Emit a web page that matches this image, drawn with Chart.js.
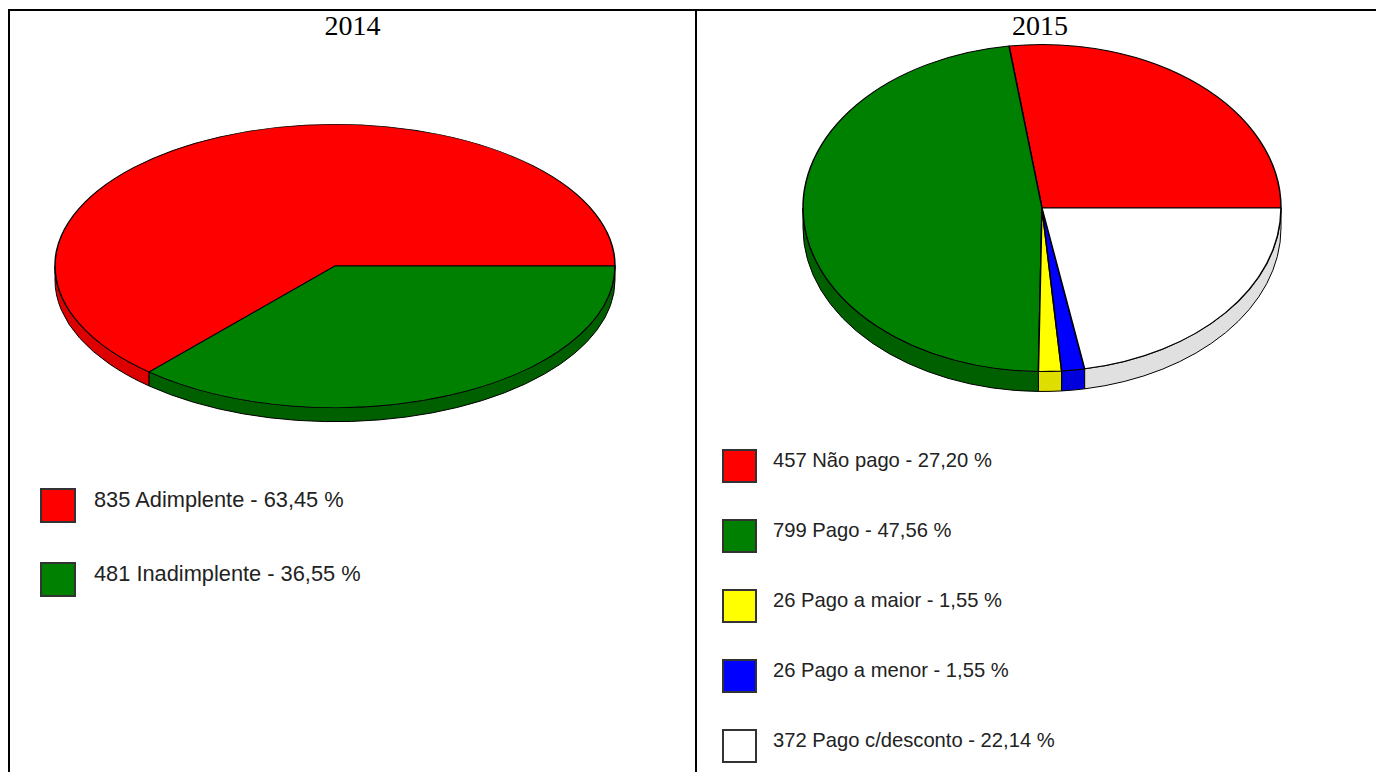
<!DOCTYPE html>
<html>
<head>
<meta charset="utf-8">
<script src="https://cdn.jsdelivr.net/npm/chart.js@4.4.1/dist/chart.umd.min.js"></script>
<style>
body{margin:0;background:#fff;width:1376px;height:772px;overflow:hidden;position:relative;font-family:"Liberation Sans",Arial,sans-serif;}
.line{position:absolute;background:#000;}
.title{position:absolute;font-family:"Liberation Serif","Times New Roman",serif;font-size:28px;line-height:28px;text-align:center;color:#000;}
.pie{position:absolute;}
.legend{position:absolute;}
.item{position:absolute;left:0;white-space:nowrap;color:#222;}
.box{position:absolute;left:0;box-sizing:border-box;border:2px solid #333;}
</style>
</head>
<body>
<div class="line" style="left:8px;top:9px;width:1368px;height:2px"></div>
<div class="line" style="left:8px;top:9px;width:2px;height:763px"></div>
<div class="line" style="left:695px;top:9px;width:2px;height:763px"></div>
<div class="title" style="left:10px;width:685px;top:12px">2014</div>
<div class="title" style="left:697px;width:686px;top:12px">2015</div>
<div class="pie" style="left:35px;top:96px;width:600px;height:340px"><canvas id="pie2014"></canvas></div>
<div class="pie" style="left:782px;top:8px;width:520px;height:400px"><canvas id="pie2015"></canvas></div>
<div class="legend" id="leg2014" style="left:40px;top:488px"></div>
<div class="legend" id="leg2015" style="left:722px;top:449px"></div>
<script>
/* DATA */
const labels2014=["Adimplente","Inadimplente"];
const values2014=[835,481];

const labels2015=["Não pago","Pago","Pago a maior","Pago a menor","Pago c/desconto"];
const values2015=[457,799,26,26,372];

/* COLOURS */
const colors2014=["#ff0000","#008000"];
const sides2014=["#dc0000","#006000"];
const colors2015=["#ff0000","#008000","#ffff00","#0000ff","#ffffff"];
const sides2015=["#dc0000","#006000","#dede00","#0000dd","#e0e0e0"];

/* 3D TILT: squash the pie into an ellipse and draw the side wall under it */
const tiltPlugin={
    id:"tilt",
    beforeDatasetsDraw(chart,args,opts){
        let ctx=chart.ctx;
        let arcs=chart.getDatasetMeta(0).data;
        if(!arcs.length) return;
        let cx=arcs[0].x, cy=arcs[0].y, rx=arcs[0].outerRadius, ry=rx*opts.tilt;

        ctx.save();
        ctx.lineWidth=1;
        ctx.strokeStyle="#000";
        arcs.forEach((arc,i)=>{
            let span=arc.endAngle-arc.startAngle;
            let a0=(-arc.endAngle)%(2*Math.PI);
            if(a0<0) a0+=2*Math.PI;
            let a1=a0+span;
            [[0,Math.PI],[2*Math.PI,3*Math.PI]].forEach(([lo,hi])=>{
                let b0=Math.max(a0,lo), b1=Math.min(a1,hi);
                if(b1<=b0) return;
                ctx.beginPath();
                ctx.ellipse(cx,cy,rx,ry,0,b0,b1,false);
                ctx.lineTo(cx+rx*Math.cos(b1),cy+ry*Math.sin(b1)+opts.depth);
                ctx.ellipse(cx,cy+opts.depth,rx,ry,0,b1,b0,true);
                ctx.closePath();
                ctx.fillStyle=opts.sideColors[i];
                ctx.fill();
                ctx.stroke();
            });
        });
        ctx.restore();

        // flip + squash: slices run counter-clockwise from 3 o'clock
        ctx.save();
        ctx.translate(cx,cy);
        ctx.scale(1,-opts.tilt);
        ctx.translate(-cx,-cy);
    },
    afterDatasetsDraw(chart){
        if(chart.getDatasetMeta(0).data.length) chart.ctx.restore();
    }
};

function makePie(id,labels,values,colors,sides,radius,tilt,depth){
    return new Chart(
    document.getElementById(id),
    {
        type:"pie",
        data:{
            labels:labels,
            datasets:[{
                data:values,
                backgroundColor:colors,
                borderColor:"#000",
                borderWidth:1.5,
                clip:false
            }]
        },
        options:{
            responsive:true,
            maintainAspectRatio:false,
            animation:false,
            events:[],
            rotation:90,
            radius:radius,
            plugins:{
                legend:{display:false},
                tooltip:{enabled:false},
                tilt:{tilt:tilt,depth:depth,sideColors:sides}
            }
        },
        plugins:[tiltPlugin]
    });
}

makePie("pie2014",labels2014,values2014,colors2014,sides2014,280,0.506,14);
makePie("pie2015",labels2015,values2015,colors2015,sides2015,239,0.684,20);

/* LEGENDS */
function buildLegend(id,labels,values,colors,box,step,fontSize,textX,textTop){
    let el=document.getElementById(id);
    let total=values.reduce((a,b)=>a+b,0);
    labels.forEach((lab,i)=>{
        let pct=(values[i]/total*100).toFixed(2).replace(".",",");
        let b=document.createElement("div");
        b.className="box";
        b.style.top=(i*step)+"px";
        b.style.width=box[0]+"px";
        b.style.height=box[1]+"px";
        b.style.background=colors[i];
        el.appendChild(b);
        let t=document.createElement("div");
        t.className="item";
        t.style.left=textX+"px";
        t.style.top=(i*step+textTop)+"px";
        t.style.fontSize=fontSize+"px";
        t.style.lineHeight=fontSize+"px";
        t.textContent=values[i]+" "+lab+" - "+pct+" %";
        el.appendChild(t);
    });
}

buildLegend("leg2014",labels2014,values2014,colors2014,[36,35],74,21.8,54,1);
buildLegend("leg2015",labels2015,values2015,colors2015,[35,34],70,20.2,51,1);
</script>
</body>
</html>
